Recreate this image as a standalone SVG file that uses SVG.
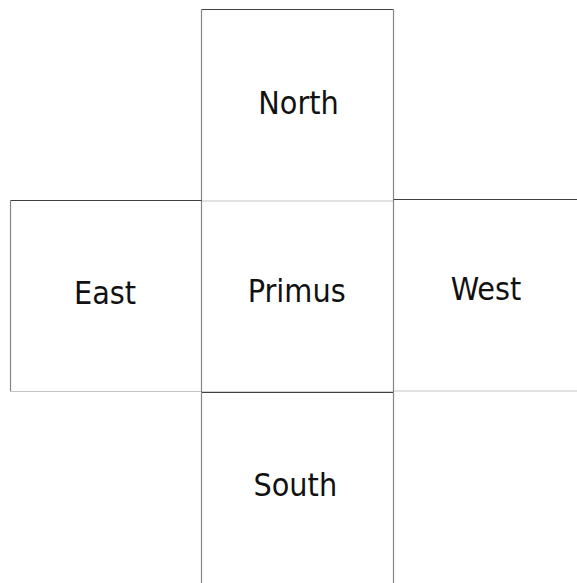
<svg xmlns="http://www.w3.org/2000/svg" width="577" height="583" viewBox="0 0 577 583">
<style>
.bg{fill:#ffffff}
.t{stroke:#404040;stroke-width:1.2}
.s{stroke:#858585;stroke-width:1.2}
.b{stroke:#c4c4c4;stroke-width:1.2}
.lbl{font-family:"DejaVu Sans Condensed","DejaVu Sans","Liberation Sans",sans-serif;font-stretch:condensed;font-size:32px;fill:#111;text-anchor:middle}
</style>
<rect x="0" y="0" width="577" height="583" fill="#fff"/>
<g id="north">
<line class="t" x1="201.5" y1="9.5" x2="393.5" y2="9.5"/>
<line class="s" x1="201.5" y1="9.5" x2="201.5" y2="201"/>
<line class="s" x1="393.5" y1="9.5" x2="393.5" y2="201"/>
<text class="lbl" x="298.5" y="114">North</text>
</g>
<g id="east">
<line class="t" x1="10.5" y1="200.5" x2="202" y2="200.5"/>
<line class="s" x1="10.5" y1="200.5" x2="10.5" y2="391.5"/>
<line class="b" x1="10.5" y1="391.5" x2="202" y2="391.5"/>
<text class="lbl" x="105" y="304">East</text>
</g>
<g id="west">
<line class="t" x1="393.5" y1="199.5" x2="577" y2="199.5"/>
<line class="b" x1="393.5" y1="391" x2="577" y2="391"/>
<text class="lbl" x="486" y="299.5">West</text>
</g>
<g id="primus">
<line class="b" x1="201.5" y1="201" x2="393.5" y2="201"/>
<line class="s" x1="201.5" y1="201" x2="201.5" y2="392"/>
<line class="s" x1="393.5" y1="199.5" x2="393.5" y2="392"/>
<text class="lbl" x="296.7" y="301.7">Primus</text>
</g>
<g id="south">
<line class="t" x1="201.5" y1="392.3" x2="393.5" y2="392.3"/>
<line class="s" x1="201.5" y1="392.3" x2="201.5" y2="583"/>
<line class="s" x1="393.5" y1="392.3" x2="393.5" y2="583"/>
<text class="lbl" x="295.3" y="496">South</text>
</g>
<g id="connectors"></g>
</svg>
